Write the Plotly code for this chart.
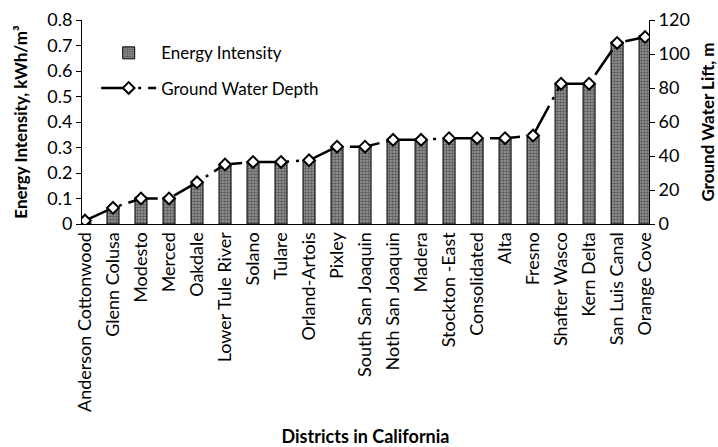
import plotly.graph_objects as go

# Irrigation districts, ordered by ground water lift
districts = [
    "Anderson Cottonwood", "Glenn Colusa", "Modesto", "Merced", "Oakdale",
    "Lower Tule River", "Solano", "Tulare", "Orland-Artois", "Pixley",
    "South San Joaquin", "Noth San Joaquin", "Madera", "Stockton -East",
    "Consolidated", "Alta", "Fresno", "Shafter Wasco", "Kern Delta",
    "San Luis Canal", "Orange Cove",
]

# Energy intensity of pumping, kWh/m3 (left axis)
energy_intensity = [
    0.005, 0.065, 0.105, 0.105, 0.165, 0.235, 0.245, 0.245, 0.25, 0.305,
    0.305, 0.33, 0.33, 0.335, 0.335, 0.335, 0.345, 0.55, 0.55, 0.715, 0.74,
]

# Ground water lift, m (right axis)
ground_water_depth = [
    2, 9.5, 15, 15, 24.5, 35, 36.5, 36.5, 37.5, 45.5,
    45.5, 49.5, 49.5, 50.5, 50.5, 50.5, 52, 82.5, 82.5, 106.5, 110,
]

FONT = "Lato"

fig = go.Figure()

fig.add_trace(go.Bar(
    x=districts,
    y=energy_intensity,
    name="Energy Intensity",
    width=0.43,
    marker=dict(
        color="#6a6a6a",
        line=dict(color="black", width=1),
        pattern=dict(shape=".", size=3, solidity=0.55,
                     fgcolor="#1a1a1a", bgcolor="#9c9c9c"),
    ),
    legendgroup="a",
))

fig.add_trace(go.Scatter(
    x=districts,
    y=ground_water_depth,
    name="Ground Water Depth",
    yaxis="y2",
    mode="lines+markers",
    line=dict(color="black", width=2.5, dash="30px,7px,3px,7px"),
    marker=dict(symbol="diamond", size=9, color="white",
                line=dict(color="black", width=2)),
    legendgroup="b",
))

fig.update_layout(
    width=718,
    height=447,
    margin=dict(l=82, r=69, t=20, b=223),
    paper_bgcolor="white",
    plot_bgcolor="white",
    font=dict(family=FONT, size=17, color="black"),
    showlegend=True,
    legend=dict(
        x=0.025, y=0.925, xanchor="left", yanchor="top",
        bgcolor="rgba(0,0,0,0)",
        font=dict(family=FONT, size=17),
        tracegroupgap=10,
        traceorder="grouped",
        itemwidth=55,
    ),
    xaxis=dict(
        range=[-0.107, 20.14],
        tickangle=-90,
        tickfont=dict(family=FONT, size=18),
        showline=True, linecolor="black", linewidth=1,
        ticks="",
        showgrid=False,
        automargin=False,
        title=dict(text="<b>Districts in California</b>",
                   font=dict(family=FONT, size=18), standoff=19),
    ),
    yaxis=dict(
        range=[0, 0.8],
        dtick=0.1,
        showline=True, linecolor="black", linewidth=1,
        ticks="outside", ticklen=5, tickcolor="black",
        showgrid=False, zeroline=False,
        automargin=False,
        tickfont=dict(family=FONT, size=18),
        title=dict(text="<b>Energy Intensity, kWh/m³</b>",
                   font=dict(family=FONT, size=17), standoff=15),
    ),
    yaxis2=dict(
        range=[0, 120],
        dtick=20,
        overlaying="y",
        side="right",
        showline=True, linecolor="black", linewidth=1,
        ticks="outside", ticklen=5, tickcolor="black",
        showgrid=False, zeroline=False,
        automargin=False,
        tickfont=dict(family=FONT, size=18),
        title=dict(text="<b>Ground Water Lift, m</b>",
                   font=dict(family=FONT, size=17), standoff=14),
    ),
)

fig.write_html("out.html")
